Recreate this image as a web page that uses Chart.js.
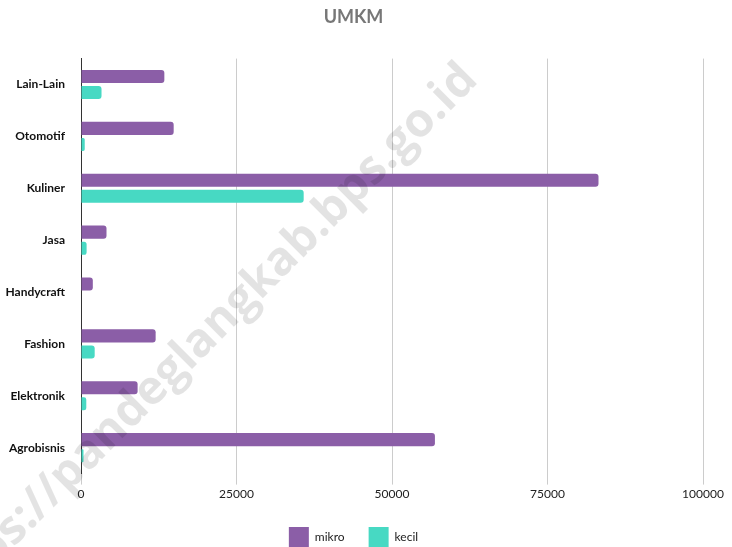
<!DOCTYPE html>
<html>
<head>
<meta charset="utf-8">
<script src="https://cdn.jsdelivr.net/npm/chart.js@4.4.0/dist/chart.umd.min.js"></script>
<style>
html,body{margin:0;padding:0;background:#fff;}
#wrap{width:732px;height:547px;}
</style>
</head>
<body>
<div id="wrap"><canvas id="c" width="732" height="547"></canvas></div>
<script>
const categories = ["Lain-Lain","Otomotif","Kuliner","Jasa","Handycraft","Fashion","Elektronik","Agrobisnis"];
const mikro = [13400, 14900, 83200, 4100, 1900, 12000, 9100, 56900];
const kecil = [3300, 600, 35800, 900, 0, 2200, 850, 400];
const xTicks = [0, 25000, 50000, 75000, 100000];
const chartTitle = "UMKM";
const watermark = "https://pandeglangkab.bps.go.id";

const watermarkPlugin = {
  id: 'watermark',
  afterDatasetsDraw(chart) {
    const ctx = chart.ctx;
    ctx.save();
    ctx.translate(470, 72);
    ctx.rotate(-Math.PI / 4);
    ctx.font = 'bold 47px "Open Sans", sans-serif';
    ctx.fillStyle = 'rgba(0,0,0,0.11)';
    ctx.textAlign = 'right';
    ctx.textBaseline = 'middle';
    ctx.fillText(watermark, 0, 0);
    ctx.restore();
  }
};

new Chart(document.getElementById('c'), {
  type: 'bar',
  data: {
    labels: categories,
    datasets: [
      { label: 'mikro', data: mikro, backgroundColor: '#8b5ea7', borderRadius: 3, borderSkipped: 'start' },
      { label: 'kecil', data: kecil, backgroundColor: '#47d9c3', borderRadius: 3, borderSkipped: 'start' }
    ]
  },
  options: {
    indexAxis: 'y',
    responsive: false,
    animation: false,
    devicePixelRatio: 1,
    categoryPercentage: 0.62,
    barPercentage: 0.81,
    layout: { padding: { left: 4, right: 29, top: 4, bottom: 0 } },
    plugins: {
      title: {
        display: true, text: chartTitle, color: '#777',
        font: { family: 'Lato, sans-serif', size: 18, weight: 'bold' },
        padding: { top: 2, bottom: 31 }
      },
      legend: {
        position: 'bottom',
        maxHeight: 44,
        labels: {
          boxWidth: 20, boxHeight: 20, color: '#222', padding: 24,
          font: { family: 'Lato, sans-serif', size: 12 }
        }
      },
      tooltip: { enabled: false }
    },
    scales: {
      x: {
        min: 0, max: 100000,
        afterBuildTicks(scale) { scale.ticks = xTicks.map(v => ({ value: v })); },
        grid: { color: '#cccccc', lineWidth: 1, tickLength: 11, drawTicks: true, tickColor: '#cccccc' },
        border: { display: false },
        ticks: { color: '#222', font: { family: 'Lato, sans-serif', size: 12 }, padding: 2,
                 callback: (v) => String(v) }
      },
      y: {
        afterFit(scale) { scale.width = 77; },
        grid: { display: false },
        border: { display: true, color: '#333', width: 1 },
        ticks: { color: '#111', font: { family: 'Lato, sans-serif', size: 12, weight: 'bold' }, padding: 8 }
      }
    }
  },
  plugins: [watermarkPlugin]
});
</script>
</body>
</html>
